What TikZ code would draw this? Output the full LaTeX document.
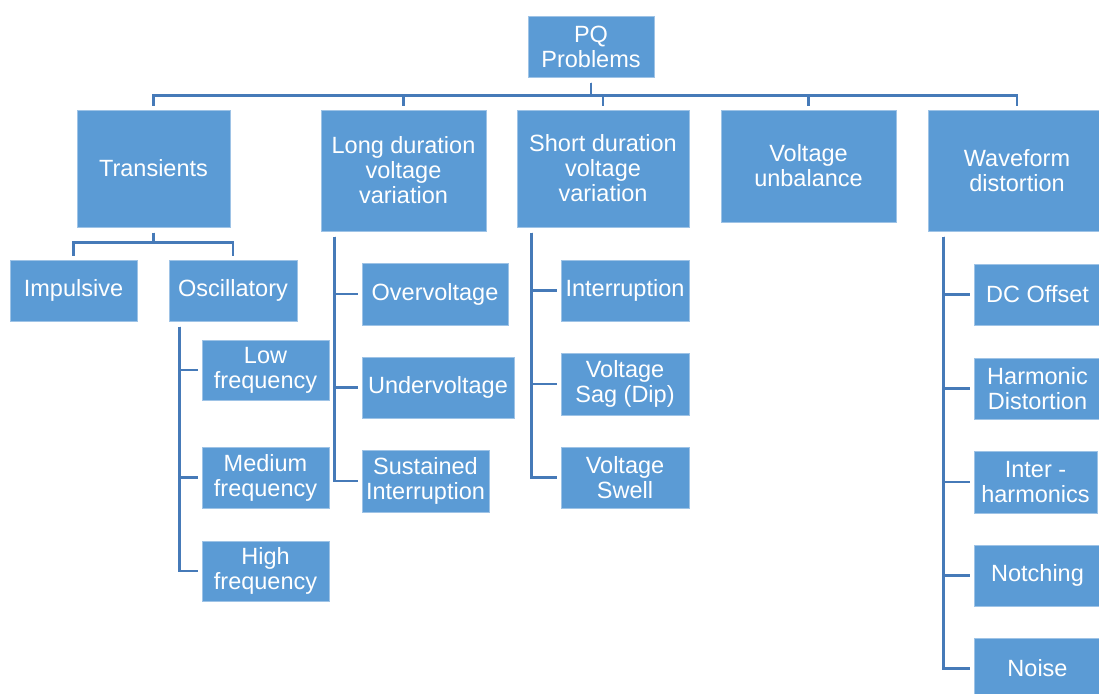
\documentclass[tikz,border=0pt]{standalone}
\usepackage{fontspec}
\setmainfont{Liberation Sans}
\usepackage{tikz}
\definecolor{pqfill}{rgb}{0.357,0.608,0.835}
\definecolor{pqline}{rgb}{0.275,0.478,0.722}
\definecolor{pqedge}{rgb}{0.620,0.765,0.902}
\tikzstyle{pqbox}=[rectangle,fill=pqfill,draw=pqedge,line width=1pt,text=white,inner sep=0pt,align=center,font=\fontsize{23.5}{25}\selectfont]
\tikzstyle{leaf}=[pqbox,minimum width=127,minimum height=61]
\tikzstyle{pqlink}=[draw=pqline,line width=2.5pt,shorten <=5pt,shorten >=4pt]

\begin{document}
\begin{tikzpicture}[x=1pt,y=-1pt]
	\useasboundingbox (0,0) rectangle (1099,693);
	% top level
	\node [style=pqbox,minimum width=126,minimum height=60] (pq) at (591,47) {PQ\\Problems};
	\node [style=pqbox,minimum width=153,minimum height=117] (trans) at (153.5,168.5) {Transients};
	\node [style=pqbox,minimum width=165,minimum height=121] (long) at (403.5,170.5) {Long duration\\voltage\\variation};
	\node [style=pqbox,minimum width=172,minimum height=117] (short) at (603,168.5) {Short duration\\voltage\\variation};
	\node [style=pqbox,minimum width=175,minimum height=112] (unbal) at (808.5,166) {Voltage\\unbalance};
	\node [style=pqbox,minimum width=178,minimum height=121] (wave) at (1017,170.5) {Waveform\\distortion};
	% transients
	\node [style=leaf] (imp) at (73.5,290.5) {Impulsive};
	\node [style=leaf,minimum width=128] (osc) at (233,290.5) {Oscillatory};
	\node [style=leaf,minimum height=60] (lowf) at (265.5,370) {Low\\frequency};
	\node [style=leaf] (medf) at (265.5,477.5) {Medium\\frequency};
	\node [style=leaf,minimum height=60] (highf) at (265.5,571) {High\\frequency};
	% long duration
	\node [style=leaf,minimum width=146,minimum height=62] (over) at (435,294) {Overvoltage};
	\node [style=leaf,minimum width=152] (under) at (438,387.5) {Undervoltage};
	\node [style=leaf,minimum height=62] (sust) at (425.5,481) {Sustained\\Interruption};
	% short duration
	\node [style=leaf,minimum width=128] (intr) at (625,290.5) {Interruption};
	\node [style=leaf,minimum width=128,minimum height=62] (sag) at (625,384) {Voltage\\Sag (Dip)};
	\node [style=leaf,minimum width=128] (swell) at (625,477.5) {Voltage\\Swell};
	% waveform distortion
	\node [style=leaf] (dc) at (1037.5,294.5) {DC Offset};
	\node [style=leaf] (harm) at (1037.5,388.5) {Harmonic\\Distortion};
	\node [style=leaf,minimum width=123,minimum height=62] (inter) at (1035.5,482) {Inter -\\harmonics};
	\node [style=leaf] (notch) at (1037.5,575.5) {Notching};
	\node [style=leaf] (noise) at (1037.5,668.5) {Noise};

	% connectors
	\foreach \c in {trans,long,short,unbal,wave}
		\draw [style=pqlink] (pq.south) -- ++(0,18) -| (\c.north);
	\foreach \c in {imp,osc}
		\draw [style=pqlink] (trans.south) -- ++(0,15) -| (\c.north);
	\foreach \c in {lowf,medf,highf}
		\draw [style=pqlink] ([xshift=11pt]osc.south west) |- (\c.west);
	\foreach \c in {over,under,sust}
		\draw [style=pqlink] ([xshift=14pt]long.south west) |- (\c.west);
	\foreach \c in {intr,sag,swell}
		\draw [style=pqlink] ([xshift=15pt]short.south west) |- (\c.west);
	\foreach \c in {dc,harm,inter,notch,noise}
		\draw [style=pqlink] ([xshift=16pt]wave.south west) |- (\c.west);
\end{tikzpicture}
\end{document}
